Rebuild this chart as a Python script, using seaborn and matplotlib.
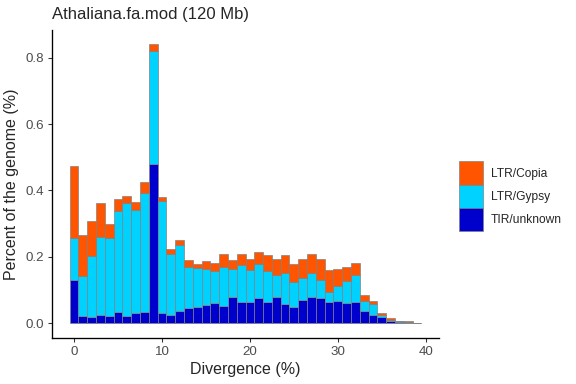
import numpy as np
import pandas as pd
import matplotlib
matplotlib.use("Agg")
import matplotlib.pyplot as plt
import seaborn as sns

# -----------------------------
# Data (percent of genome per 1% divergence bin)
# -----------------------------
divergence = list(range(40))

tir = [0.129, 0.022, 0.019, 0.024, 0.022, 0.033, 0.020, 0.029, 0.034, 0.481,
       0.029, 0.023, 0.037, 0.044, 0.048, 0.055, 0.061, 0.051, 0.078, 0.063,
       0.065, 0.075, 0.064, 0.079, 0.059, 0.049, 0.070, 0.079, 0.076, 0.063,
       0.067, 0.061, 0.064, 0.036, 0.025, 0.019, 0.005, 0.003, 0.001, 0.0005]

gypsy = [0.128, 0.121, 0.183, 0.236, 0.235, 0.305, 0.342, 0.312, 0.358, 0.340,
         0.338, 0.185, 0.198, 0.125, 0.119, 0.108, 0.095, 0.119, 0.085, 0.112,
         0.095, 0.103, 0.093, 0.066, 0.092, 0.075, 0.066, 0.071, 0.054, 0.031,
         0.045, 0.066, 0.081, 0.030, 0.032, 0.005, 0.005, 0.002, 0.002, 0.0005]

copia = [0.216, 0.124, 0.107, 0.103, 0.043, 0.036, 0.022, 0.024, 0.035, 0.021,
         0.014, 0.016, 0.015, 0.022, 0.012, 0.025, 0.025, 0.039, 0.027, 0.034,
         0.034, 0.037, 0.047, 0.048, 0.055, 0.054, 0.058, 0.059, 0.063, 0.066,
         0.052, 0.041, 0.037, 0.019, 0.011, 0.007, 0.004, 0.002, 0.002, 0.0]

classes = ["LTR/Copia", "LTR/Gypsy", "TIR/unknown"]
colors = ["#FF5500", "#00D2FF", "#0000CD"]

df = pd.DataFrame({
    "Divergence": divergence * 3,
    "Percent": copia + gypsy + tir,
    "Class": [classes[0]] * 40 + [classes[1]] * 40 + [classes[2]] * 40,
})

# -----------------------------
# Plot
# -----------------------------
sns.set_style("ticks")
plt.rcParams["font.family"] = ["Liberation Sans", "DejaVu Sans"]

fig = plt.figure(figsize=(6, 4), dpi=96)
ax = fig.add_axes([52 / 576, 46 / 384, 387 / 576, 308 / 384])

sns.histplot(
    data=df,
    x="Divergence",
    weights="Percent",
    hue="Class",
    hue_order=classes,
    palette=colors,
    multiple="stack",
    discrete=True,
    shrink=1,
    edgecolor="#7f7f7f",
    linewidth=0.5,
    alpha=1,
    ax=ax,
)

ax.set_xlim(-2.5, 41.5)
ax.set_ylim(-0.045, 0.884)
ax.set_xticks([0, 10, 20, 30, 40])
ax.set_yticks([0.0, 0.2, 0.4, 0.6, 0.8])
ax.set_yticklabels(["0.0", "0.2", "0.4", "0.6", "0.8"])

ax.set_xlabel("Divergence (%)", fontsize=12, labelpad=3)
ax.set_ylabel("Percent of the genome (%)", fontsize=12, labelpad=5)
ax.set_title("Athaliana.fa.mod (120 Mb)", fontsize=12.5, loc="left", pad=8)

ax.tick_params(axis="both", labelsize=10, labelcolor="#4D4D4D",
               color="#333333", length=3, width=0.8, pad=3)
for side in ["left", "bottom"]:
    ax.spines[side].set_linewidth(1)
    ax.spines[side].set_color("black")
sns.despine(ax=ax)

sns.move_legend(
    ax, "center left",
    bbox_to_anchor=(1.025, 0.46),
    title=None,
    frameon=False,
    fontsize=9,
    handlelength=2.0,
    handleheight=2.6,
    labelspacing=0,
    handletextpad=0.6,
)

plt.savefig("out.png", dpi=96)
plt.close()
